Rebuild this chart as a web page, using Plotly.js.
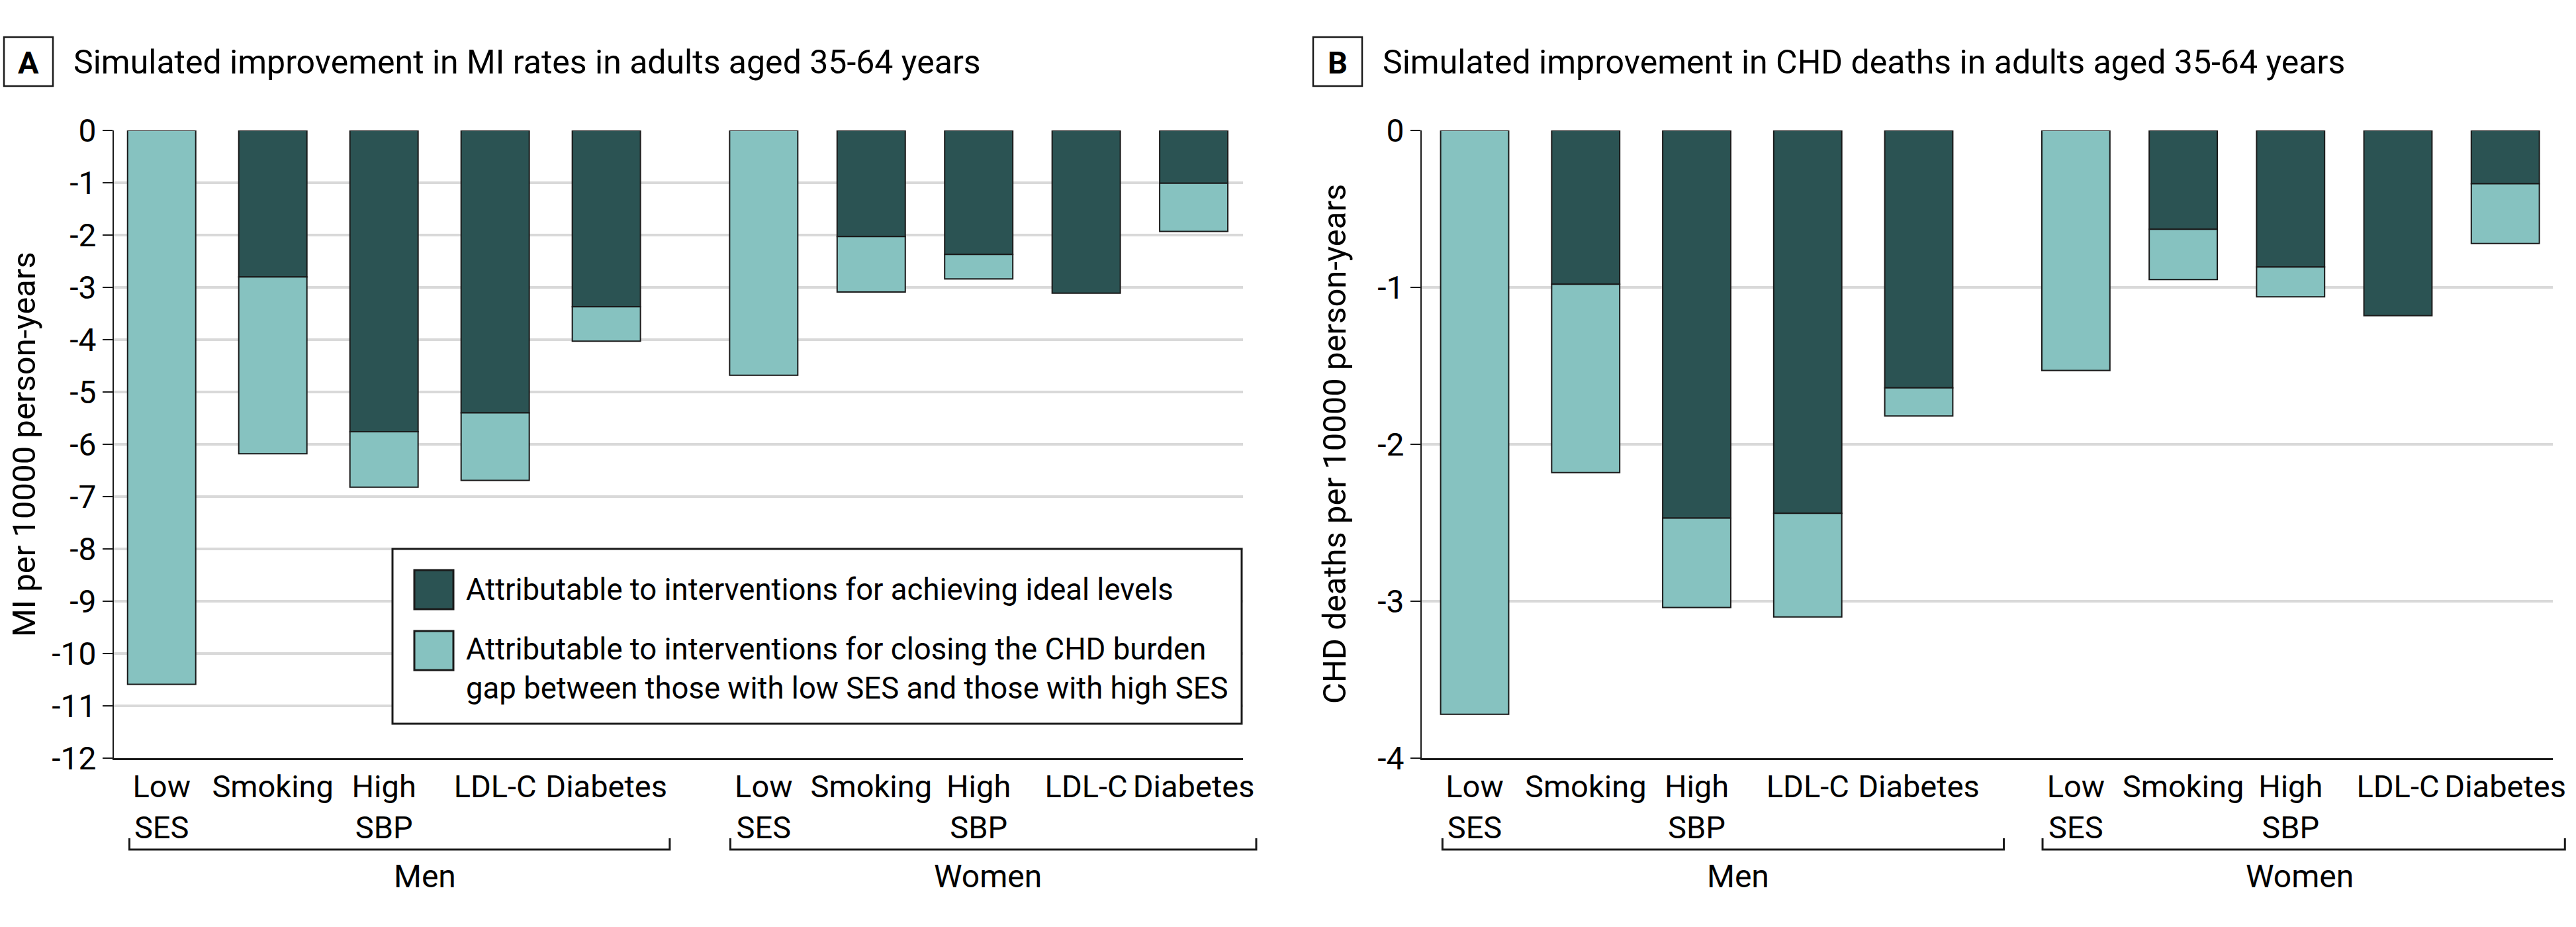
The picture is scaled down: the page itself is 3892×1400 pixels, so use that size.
<!DOCTYPE html>
<html>
<head>
<meta charset="utf-8">
<script src="https://cdn.plot.ly/plotly-3.0.1.min.js"></script>
<style>
html,body{margin:0;padding:0;background:#ffffff;}
#chart{width:3892px;height:1400px;}
</style>
</head>
<body>
<div id="chart"></div>
<script>
// ---------------- DATA ----------------
const factors = ["Low SES", "Smoking", "High SBP", "LDL-C", "Diabetes"];
const factorLabels = ["Low<br>SES", "Smoking", "High<br>SBP", "LDL-C", "Diabetes"];
const groups = ["Men", "Women"];

// Panel A: MI per 10000 person-years (segment sizes, negative = improvement)
const miIdealMen   = [0, -2.80, -5.76, -5.40, -3.37];
const miGapMen     = [-10.59, -3.38, -1.06, -1.29, -0.66];
const miIdealWomen = [0, -2.03, -2.37, -3.11, -1.01];
const miGapWomen   = [-4.68, -1.06, -0.47, 0, -0.92];

// Panel B: CHD deaths per 10000 person-years
const chdIdealMen   = [0, -0.98, -2.47, -2.44, -1.64];
const chdGapMen     = [-3.72, -1.20, -0.57, -0.66, -0.18];
const chdIdealWomen = [0, -0.63, -0.87, -1.18, -0.34];
const chdGapWomen   = [-1.53, -0.32, -0.19, 0, -0.38];

const miTickVals  = [0, -1, -2, -3, -4, -5, -6, -7, -8, -9, -10, -11, -12];
const miTickText  = ["0", "-1", "-2", "-3", "-4", "-5", "-6", "-7", "-8", "-9", "-10", "-11", "-12"];
const chdTickVals = [0, -1, -2, -3, -4];
const chdTickText = ["0", "-1", "-2", "-3", "-4"];

const seriesNames = [
  "Attributable to interventions for achieving ideal levels",
  "Attributable to interventions for closing the CHD burden<br>gap between those with low SES and those with high SES"
];
const panelTitles = [
  "Simulated improvement in MI rates in adults aged 35-64 years",
  "Simulated improvement in CHD deaths in adults aged 35-64 years"
];
const panelLetters = ["A", "B"];
const yTitles = ["MI per 10000 person-years", "CHD deaths per 10000 person-years"];

// ---------------- LAYOUT CONSTANTS ----------------
const W = 3892, H = 1400;
const FONT = "Roboto, 'Liberation Sans', Arial, sans-serif";
const DARK = "#2b5353";
const LIGHT = "#86c2c0";
const INK = "#1a1a1a";
const FS = 48;

const womenStart = 5.415, womenStep = 0.967;
const positions = factors.map((_, i) => i).concat(factors.map((_, i) => womenStart + i * womenStep));
const tickText = factorLabels.concat(factorLabels);

const plotTop = 197, plotBottom = 1145;
const panels = [
  {left: 172, right: 1878, range: [-0.43, 9.726], menEnd: 4.57, womenEnd: 9.845, yTitleX: 36, boxX: 6, titleX: 109},
  {left: 2148, right: 3857, range: [-0.477, 9.711], menEnd: 4.766, womenEnd: 9.82, yTitleX: 2016, boxX: 1984, titleX: 2087}
];
const px = v => v / W;
const py = v => (H - v) / H;
function dataToPaperX(p, xd) {
  const d0 = p.left / W, d1 = p.right / W;
  return d0 + (xd - p.range[0]) / (p.range[1] - p.range[0]) * (d1 - d0);
}

// ---------------- TRACES ----------------
function barTrace(y, color, name, xa, ya) {
  return {
    type: "bar", x: positions, y: y, name: name, xaxis: xa, yaxis: ya,
    width: 0.613, showlegend: false, hoverinfo: "skip",
    marker: {color: color, line: {color: INK, width: 2}}
  };
}
const traces = [
  barTrace(miIdealMen.concat(miIdealWomen), DARK, seriesNames[0], "x", "y"),
  barTrace(miGapMen.concat(miGapWomen), LIGHT, seriesNames[1], "x", "y"),
  barTrace(chdIdealMen.concat(chdIdealWomen), DARK, seriesNames[0], "x2", "y2"),
  barTrace(chdGapMen.concat(chdGapWomen), LIGHT, seriesNames[1], "x2", "y2")
];

// ---------------- AXES ----------------
function xAxis(p, anchor) {
  return {
    domain: [p.left / W, p.right / W], range: p.range, anchor: anchor,
    tickmode: "array", tickvals: positions, ticktext: tickText, tickangle: 0,
    tickfont: {family: FONT, size: 47, color: "#000"}, ticks: "", ticklabelstandoff: 0,
    showline: true, linecolor: INK, linewidth: 3, showgrid: false, zeroline: false,
    fixedrange: true
  };
}
function yAxis(p, anchor, range, vals, text) {
  return {
    domain: [py(plotBottom), py(plotTop)], range: range, anchor: anchor,
    tickmode: "array", tickvals: vals, ticktext: text,
    tickfont: {family: FONT, size: FS, color: "#000"},
    ticks: "outside", ticklen: 15, tickwidth: 2, tickcolor: INK,
    showline: true, linecolor: INK, linewidth: 2,
    showgrid: true, gridcolor: "#d9d9d9", gridwidth: 4, zeroline: false,
    fixedrange: true
  };
}

// ---------------- DECORATIONS ----------------
const shapes = [];
const annotations = [];
panels.forEach((p, k) => {
  shapes.push({type: "rect", xref: "paper", yref: "paper",
    x0: px(p.boxX), x1: px(p.boxX + 74), y0: py(130), y1: py(56),
    line: {color: INK, width: 2.5}, fillcolor: "rgba(0,0,0,0)"});
  annotations.push({xref: "paper", yref: "paper", x: px(p.boxX + 37), y: py(94),
    xanchor: "center", yanchor: "middle", showarrow: false,
    text: "<b>" + panelLetters[k] + "</b>", font: {family: FONT, size: 47, color: "#000"}});
  annotations.push({xref: "paper", yref: "paper", x: px(p.titleX), y: py(94),
    xanchor: "left", yanchor: "middle", showarrow: false,
    text: panelTitles[k], font: {family: FONT, size: 50, color: "#000"}});
  annotations.push({xref: "paper", yref: "paper", x: px(p.yTitleX), y: py((plotTop + plotBottom) / 2),
    xanchor: "center", yanchor: "middle", showarrow: false, textangle: -90,
    text: yTitles[k], font: {family: FONT, size: 49, color: "#000"}});
  const brTop = py(1266), brBot = py(1283);
  const spans = [[positions[0] - 0.29, p.menEnd], [womenStart - 0.30, p.womenEnd]];
  spans.forEach((s) => {
    const a = dataToPaperX(p, s[0]), b = dataToPaperX(p, s[1]);
    shapes.push({type: "path", xref: "paper", yref: "paper",
      path: `M${a},${brTop} L${a},${brBot} L${b},${brBot} L${b},${brTop}`,
      line: {color: INK, width: 3}});
  });
  const labelX = [2.37, 7.43];
  groups.forEach((gname, g) => {
    annotations.push({xref: "paper", yref: "paper", x: dataToPaperX(p, labelX[g]), y: py(1323),
      xanchor: "center", yanchor: "middle", showarrow: false,
      text: gname, font: {family: FONT, size: FS, color: "#000"}});
  });
});

// manual legend (panel A)
shapes.push({type: "rect", xref: "paper", yref: "paper",
  x0: px(593), x1: px(1876), y0: py(1093), y1: py(829),
  line: {color: INK, width: 3}, fillcolor: "#ffffff", layer: "above"});
shapes.push({type: "rect", xref: "paper", yref: "paper",
  x0: px(626), x1: px(685), y0: py(920), y1: py(861),
  line: {color: INK, width: 3}, fillcolor: DARK, layer: "above"});
shapes.push({type: "rect", xref: "paper", yref: "paper",
  x0: px(626), x1: px(685), y0: py(1012), y1: py(953),
  line: {color: INK, width: 3}, fillcolor: LIGHT, layer: "above"});
annotations.push({xref: "paper", yref: "paper", x: px(702), y: py(890),
  xanchor: "left", yanchor: "middle", showarrow: false, align: "left",
  text: seriesNames[0], font: {family: FONT, size: 45.5, color: "#000"}});
annotations.push({xref: "paper", yref: "paper", x: px(702), y: py(1010),
  xanchor: "left", yanchor: "middle", showarrow: false, align: "left",
  text: seriesNames[1], font: {family: FONT, size: 45.5, color: "#000"}});

const layout = {
  width: W, height: H,
  margin: {l: 0, r: 0, t: 0, b: 0, autoexpand: false},
  paper_bgcolor: "#ffffff", plot_bgcolor: "#ffffff",
  font: {family: FONT, size: FS, color: "#000"},
  barmode: "relative", showlegend: false,
  xaxis: xAxis(panels[0], "y"),
  yaxis: yAxis(panels[0], "x", [-12, 0], miTickVals, miTickText),
  xaxis2: xAxis(panels[1], "y2"),
  yaxis2: yAxis(panels[1], "x2", [-4, 0], chdTickVals, chdTickText),
  shapes: shapes,
  annotations: annotations
};

Plotly.newPlot("chart", traces, layout, {displayModeBar: false, responsive: false});
</script>
</body>
</html>
